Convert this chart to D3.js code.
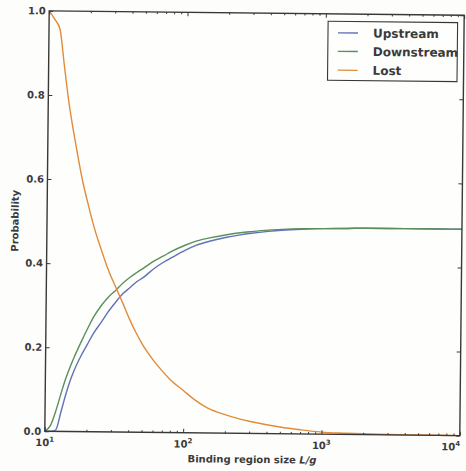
<!DOCTYPE html>
<html>
<head>
<meta charset="utf-8">
<script src="https://cdn.jsdelivr.net/npm/d3@7"></script>
<style>
  html, body { margin: 0; padding: 0; background: #fdfdfc; overflow: hidden; }
  svg { display: block; }
  text { font-family: "DejaVu Sans", sans-serif; fill: #3a3a3a; font-weight: bold; }
</style>
</head>
<body>
<svg id="chart" width="466" height="471"></svg>
<script>
// Binding region size L/g (log axis)
const sizes      = [10, 11, 12, 13, 14, 15, 16, 18, 20, 22, 25, 28, 32, 36, 40, 45, 50, 60, 70, 80,
                    100, 120, 150, 200, 250, 300, 400, 500, 700, 1000, 1500, 2000, 3000, 5000, 7000, 10000];
const upstream   = [0, 0, 0.004, 0.045, 0.085, 0.118, 0.143, 0.18, 0.208, 0.233, 0.26, 0.285, 0.31, 0.33, 0.343, 0.358, 0.368, 0.39, 0.405, 0.416,
                    0.434, 0.446, 0.456, 0.466, 0.472, 0.476, 0.481, 0.484, 0.487, 0.489, 0.490, 0.491, 0.491, 0.491, 0.491, 0.491];
const downstream = [0, 0.015, 0.05, 0.09, 0.125, 0.152, 0.175, 0.213, 0.245, 0.272, 0.30, 0.32, 0.338, 0.355, 0.368, 0.38, 0.39, 0.408, 0.42, 0.431,
                    0.446, 0.456, 0.464, 0.472, 0.477, 0.480, 0.484, 0.486, 0.488, 0.489, 0.490, 0.491, 0.491, 0.491, 0.491, 0.491];
const lost       = [1.0, 0.98, 0.957, 0.87, 0.79, 0.73, 0.68, 0.595, 0.535, 0.485, 0.43, 0.385, 0.342, 0.305, 0.27, 0.236, 0.209, 0.172, 0.146, 0.126,
                    0.10, 0.079, 0.059, 0.044, 0.035, 0.029, 0.021, 0.016, 0.010, 0.005, 0.003, 0.002, 0.001, 0.0005, 0.0003, 0.0002];

const seriesNames  = ["Upstream", "Downstream", "Lost"];
const seriesColors = ["#6272b8", "#5a905c", "#e08c3a"];
const yTicks       = [0, 0.2, 0.4, 0.6, 0.8, 1.0];
const yTickLabels  = ["0.0", "0.2", "0.4", "0.6", "0.8", "1.0"];
const xTickExps    = [1, 2, 3, 4];
const xLabelText   = "Binding region size ";
const xLabelMath   = "L/g";
const yLabelText   = "Probability";

const W = 466;
const area = { left: 47, right: 462, top: 13, bottom: 433.5 };
const axisColor = "#383838";

const x = d3.scaleLog().domain([10, 10000]).range([area.left, area.right]);
const y = d3.scaleLinear().domain([0, 1]).range([area.bottom, area.top]);

const svg = d3.select("#chart");
const cx = (area.left + area.right) / 2, cy = (area.top + area.bottom) / 2;
// the printed figure sits at a slight tilt
const g = svg.append("g").attr("transform", `rotate(0.6 ${cx} ${cy})`);

// plot background
g.append("rect")
  .attr("x", area.left).attr("y", area.top)
  .attr("width", area.right - area.left).attr("height", area.bottom - area.top)
  .attr("fill", "#fefefd");

// curves
const series = [upstream, downstream, lost];
const line = d3.line().x(d => x(d[0])).y(d => y(d[1])).curve(d3.curveMonotoneX);
series.forEach((vals, i) => {
  g.append("path")
    .datum(sizes.map((s, j) => [s, vals[j]]))
    .attr("fill", "none")
    .attr("stroke", seriesColors[i])
    .attr("stroke-width", 1.4)
    .attr("stroke-linejoin", "round")
    .attr("d", line);
});

// ticks (inward on all four sides)
const majorX = xTickExps.map(e => Math.pow(10, e));
const minorX = [];
for (let e = 1; e < 4; e++) for (let k = 2; k <= 9; k++) minorX.push(k * Math.pow(10, e));

function styleAxis(sel) {
  sel.select(".domain").remove();
  sel.selectAll(".tick line").attr("stroke", axisColor).attr("stroke-width", 1);
  sel.selectAll(".tick text").remove();
}
g.append("g").attr("transform", `translate(0,${area.bottom})`)
  .call(d3.axisBottom(x).tickValues(majorX).tickSizeInner(-4).tickSizeOuter(0).tickFormat(""))
  .call(styleAxis);
g.append("g").attr("transform", `translate(0,${area.bottom})`)
  .call(d3.axisBottom(x).tickValues(minorX).tickSizeInner(-2).tickSizeOuter(0).tickFormat(""))
  .call(styleAxis);
g.append("g").attr("transform", `translate(0,${area.top})`)
  .call(d3.axisTop(x).tickValues(majorX).tickSizeInner(-4).tickSizeOuter(0).tickFormat(""))
  .call(styleAxis);
g.append("g").attr("transform", `translate(0,${area.top})`)
  .call(d3.axisTop(x).tickValues(minorX).tickSizeInner(-2).tickSizeOuter(0).tickFormat(""))
  .call(styleAxis);
g.append("g").attr("transform", `translate(${area.left},0)`)
  .call(d3.axisLeft(y).tickValues(yTicks).tickSizeInner(-4).tickSizeOuter(0).tickFormat(""))
  .call(styleAxis);
g.append("g").attr("transform", `translate(${area.right},0)`)
  .call(d3.axisRight(y).tickValues(yTicks).tickSizeInner(-4).tickSizeOuter(0).tickFormat(""))
  .call(styleAxis);

// frame
g.append("rect")
  .attr("x", area.left).attr("y", area.top)
  .attr("width", area.right - area.left).attr("height", area.bottom - area.top)
  .attr("fill", "none").attr("stroke", axisColor).attr("stroke-width", 1.4);

// y tick labels
g.append("g").selectAll("text").data(yTicks).join("text")
  .attr("x", area.left - 3.5)
  .attr("y", d => y(d) + 3.6)
  .attr("text-anchor", "end")
  .attr("font-size", 10)
  .text((d, i) => yTickLabels[i]);

// x tick labels: 10 with exponent; the last one is kept inside the page edge
const xl = g.append("g").selectAll("text").data(xTickExps).join("text")
  .attr("x", e => Math.min(x(Math.pow(10, e)), W - 13))
  .attr("y", area.bottom + 14.8)
  .attr("text-anchor", "middle")
  .attr("font-size", 10);
xl.append("tspan").text("10");
xl.append("tspan").attr("font-size", 7).attr("dy", -4.3).text(e => String(e));

// axis titles
const xt = g.append("text")
  .attr("x", cx)
  .attr("y", area.bottom + 29.5)
  .attr("text-anchor", "middle")
  .attr("font-size", 10);
xt.append("tspan").text(xLabelText);
xt.append("tspan").attr("font-style", "italic").text(xLabelMath);

g.append("text")
  .attr("transform", `translate(18.5,${cy}) rotate(-90)`)
  .attr("text-anchor", "middle")
  .attr("font-size", 10)
  .text(yLabelText);

// legend
const leg = { x: 326, y: 20.5, w: 129.5, h: 59, rowY: [32, 50.5, 69.3] };
const lg = g.append("g");
lg.append("rect")
  .attr("x", leg.x).attr("y", leg.y).attr("width", leg.w).attr("height", leg.h)
  .attr("fill", "#fefefd").attr("stroke", axisColor).attr("stroke-width", 1.1);
seriesNames.forEach((name, i) => {
  lg.append("line")
    .attr("x1", leg.x + 10).attr("x2", leg.x + 30)
    .attr("y1", leg.rowY[i]).attr("y2", leg.rowY[i])
    .attr("stroke", seriesColors[i]).attr("stroke-width", 1.4);
  lg.append("text")
    .attr("x", leg.x + 45).attr("y", leg.rowY[i] + 4.3)
    .attr("font-size", 12)
    .text(name);
});
</script>
</body>
</html>
